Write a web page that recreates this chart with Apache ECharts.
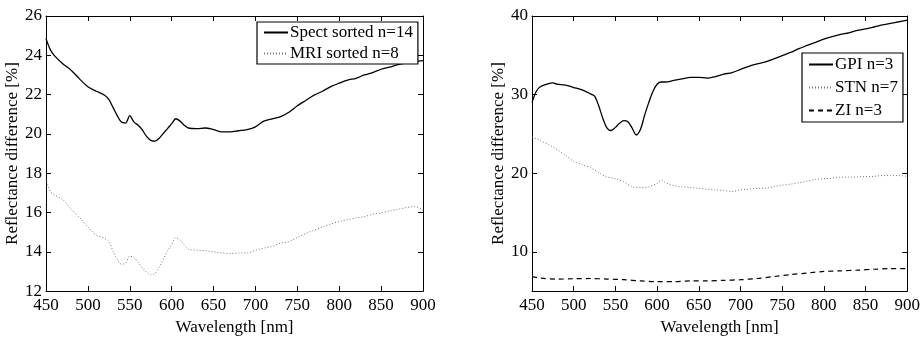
<!DOCTYPE html>
<html><head><meta charset="utf-8">
<script src="https://cdn.jsdelivr.net/npm/echarts@6/dist/echarts.min.js"></script>
<style>html,body{margin:0;padding:0;background:#fff}#c{width:923px;height:341px}</style>
</head><body><div id="c"></div>
<script>
// ---- Left panel data ----
const L_WL = [450,455,460,470,480,490,500,510,520,
  525,530,535,540,545,550,555,560,565,570,575,580,585,590,595,600,605,610,615,620,
  630,640,650,660,670,680,690,700,710,720,730,740,750,760,770,780,790,800,810,820,830,840,850,860,870,880,890,900];
const SPECT = [24.85,24.3,23.98,23.57,23.24,22.8,22.4,22.17,21.97,
  21.76,21.35,20.93,20.6,20.55,20.93,20.6,20.44,20.2,19.87,19.67,19.63,19.78,20.03,20.27,20.52,20.77,20.65,20.44,20.3,
  20.27,20.3,20.22,20.1,20.1,20.16,20.22,20.36,20.65,20.77,20.88,21.1,21.43,21.7,21.97,22.17,22.41,22.58,22.74,22.83,23.0,23.12,23.29,23.4,23.52,23.62,23.68,23.73];
const MRI = [17.73,17.07,16.9,16.66,16.16,15.75,15.26,14.85,14.68,
  14.52,14.03,13.62,13.37,13.42,13.78,13.7,13.45,13.2,12.96,12.83,12.9,13.2,13.62,14.03,14.36,14.72,14.6,14.36,14.14,
  14.08,14.06,14.0,13.94,13.91,13.94,13.94,14.08,14.19,14.27,14.44,14.52,14.73,14.93,15.1,15.26,15.42,15.54,15.64,15.72,15.79,15.92,15.98,16.08,16.16,16.25,16.3,16.12];
// ---- Right panel data ----
const GPI_WL = [450,455,460,470,475,480,490,500,510,520,525,530,535,540,545,550,555,560,565,570,575,580,585,590,595,600,605,610,
  620,630,640,650,660,670,680,690,700,710,720,730,740,750,760,770,780,790,800,810,820,830,840,850,860,870,880,890,900];
const GPI = [28.98,30.4,31.0,31.4,31.48,31.32,31.2,30.9,30.6,30.1,29.8,28.57,26.96,25.75,25.43,25.83,26.35,26.68,26.56,25.75,24.86,25.55,27.36,28.98,30.4,31.32,31.6,31.6,
  31.8,32.0,32.2,32.2,32.1,32.3,32.6,32.8,33.2,33.6,33.9,34.15,34.55,34.95,35.36,35.84,36.25,36.65,37.05,37.38,37.66,37.86,38.18,38.35,38.6,38.87,39.07,39.27,39.48];
const STN_WL = [450,460,470,480,490,500,510,520,530,540,550,560,570,580,590,600,605,610,620,630,640,650,660,670,680,690,700,
  710,720,730,740,750,760,770,780,790,800,810,820,830,840,850,860,870,880,890,900];
const STN = [24.62,24.13,23.65,23.0,22.3,21.5,21.1,20.7,20.1,19.5,19.3,18.9,18.28,18.16,18.28,18.7,19.1,18.8,18.4,18.28,18.16,18.08,17.96,17.88,17.8,17.67,17.88,
  17.96,18.08,18.08,18.28,18.48,18.6,18.8,18.97,19.2,19.3,19.37,19.5,19.5,19.53,19.57,19.6,19.7,19.7,19.7,19.6];
const ZI_WL = [450,460,480,500,520,540,560,580,600,620,640,660,680,700,720,740,760,780,800,820,840,860,880,900];
const ZI = [6.85,6.65,6.53,6.57,6.6,6.53,6.45,6.3,6.2,6.2,6.3,6.3,6.37,6.45,6.6,6.85,7.1,7.3,7.5,7.58,7.66,7.78,7.86,7.86];
const X_TICKS = [450,500,550,600,650,700,750,800,850,900];
const L_Y_TICKS = [12,14,16,18,20,22,24,26];
const R_Y_TICKS = [10,20,30,40];

const pair = (xs, ys) => xs.map((x,i)=>[x,ys[i]]);
const FONT = 'Liberation Serif';
const txt = {fontFamily: FONT, fontSize: 17, color: '#000'};
const axLine = {show:true, lineStyle:{color:'#000', width:1}};
const tick = {show:true, inside:true, length:5, lineStyle:{color:'#000', width:1}};

function xAxes(gi){
  return [
    {type:'value', gridIndex:gi, min:450, max:900, interval:50, position:'bottom',
     name:'Wavelength [nm]', nameLocation:'middle', nameGap:22, nameTextStyle:txt,
     axisLine:axLine, axisTick:tick, axisLabel:Object.assign({margin:6}, txt), splitLine:{show:false}},
    {type:'value', gridIndex:gi, min:450, max:900, interval:50, position:'top',
     axisLine:axLine, axisTick:tick, axisLabel:{show:false}, splitLine:{show:false}}
  ];
}
function yAxes(gi, min, max, interval, ticks, nameGap){
  const base = {type:'value', gridIndex:gi, min:min, max:max, splitLine:{show:false}};
  const lab = Object.assign({margin:4, customValues:ticks,
     formatter:(v)=> ticks.indexOf(v)>=0 ? String(v) : ''}, txt);
  const tk = Object.assign({customValues:ticks}, tick);
  const a = Object.assign({}, base, {position:'left', name:'Reflectance difference [%]',
     nameLocation:'middle', nameGap:nameGap, nameRotate:90, nameTextStyle:txt,
     axisLine:axLine, axisTick:tk, axisLabel:lab});
  const b = Object.assign({}, base, {position:'right', axisLine:axLine, axisTick:tk, axisLabel:{show:false}});
  if (interval) { a.interval = interval; b.interval = interval; }
  return [a,b];
}

const legendCommon = {orient:'vertical', backgroundColor:'#fff', borderColor:'#000', borderWidth:1.2,
  itemWidth:24, itemHeight:14, itemStyle:{opacity:0, borderWidth:0},
  textStyle:Object.assign({padding:[0,0,0,-3]}, txt)};

const chart = echarts.init(document.getElementById('c'), null, {renderer:'canvas'});
chart.setOption({
  animation:false,
  backgroundColor:'#fff',
  grid:[
    {left:46, top:16, width:377, height:284},
    {left:532, top:16, width:376, height:288}
  ],
  xAxis:[...xAxes(0), ...xAxes(1)],
  yAxis:[...yAxes(0, 12, 26, 2, L_Y_TICKS, 22), ...yAxes(1, 5, 40, null, R_Y_TICKS, 22)],
  legend:[
    Object.assign({data:['Spect sorted n=14','MRI sorted n=8'], left:257, top:22,
      padding:[2,5,2,6], itemGap:4}, legendCommon),
    Object.assign({data:['GPI n=3','STN n=7','ZI n=3'], left:802, top:53,
      padding:[3,5,3,6], itemGap:6}, legendCommon)
  ],
  series:[
    {name:'Spect sorted n=14', type:'line', xAxisIndex:0, yAxisIndex:0, data:pair(L_WL,SPECT),
     symbol:'none', smooth:0.3, lineStyle:{color:'#000', width:1.3, type:'solid'}, itemStyle:{color:'#000'}},
    {name:'MRI sorted n=8', type:'line', xAxisIndex:0, yAxisIndex:0, data:pair(L_WL,MRI),
     symbol:'none', smooth:0.3, lineStyle:{color:'#777', width:1, type:[1,2]}, itemStyle:{color:'#777'}},
    {name:'GPI n=3', type:'line', xAxisIndex:2, yAxisIndex:2, data:pair(GPI_WL,GPI),
     symbol:'none', smooth:0.3, lineStyle:{color:'#000', width:1.3, type:'solid'}, itemStyle:{color:'#000'}},
    {name:'STN n=7', type:'line', xAxisIndex:2, yAxisIndex:2, data:pair(STN_WL,STN),
     symbol:'none', smooth:0.3, lineStyle:{color:'#777', width:1, type:[1,2]}, itemStyle:{color:'#777'}},
    {name:'ZI n=3', type:'line', xAxisIndex:2, yAxisIndex:2, data:pair(ZI_WL,ZI),
     symbol:'none', smooth:0.3, lineStyle:{color:'#000', width:1.2, type:[5,4]}, itemStyle:{color:'#000'}}
  ]
});
</script></body></html>
